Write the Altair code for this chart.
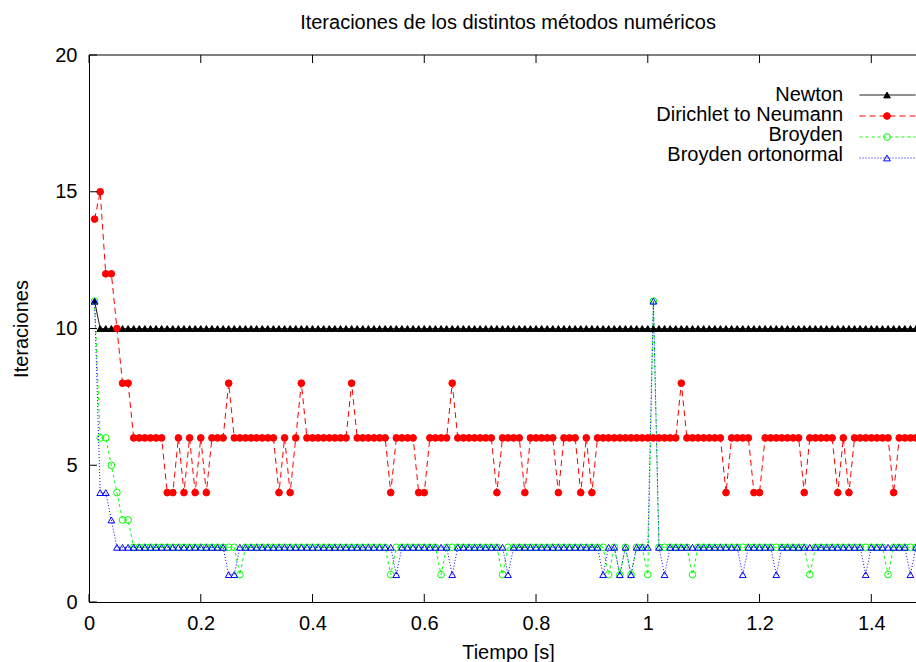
import altair as alt
import pandas as pd

FONT = "Liberation Sans"
FS = 20

series = ["Newton", "Dirichlet to Neumann", "Broyden", "Broyden ortonormal"]
colors = ["#000000", "#ff0000", "#00ff00", "#0000ff"]
dashes = [[1, 0], [6, 4], [3, 3], [1, 2]]
shapes = ["triangle-up", "circle", "circle", "triangle-up"]
fills = ["#000000", "#ff0000", "transparent", "transparent"]

x_ticks = [0, 0.2, 0.4, 0.6, 0.8, 1.0, 1.2, 1.4]
y_ticks = [0, 5, 10, 15, 20]

# sampling instants (s)
tiempo = [round(k / 100, 2) for k in range(1, 149)]

newton = [
    11, 10, 10, 10, 10, 10, 10, 10, 10, 10,
    10, 10, 10, 10, 10, 10, 10, 10, 10, 10,
    10, 10, 10, 10, 10, 10, 10, 10, 10, 10,
    10, 10, 10, 10, 10, 10, 10, 10, 10, 10,
    10, 10, 10, 10, 10, 10, 10, 10, 10, 10,
    10, 10, 10, 10, 10, 10, 10, 10, 10, 10,
    10, 10, 10, 10, 10, 10, 10, 10, 10, 10,
    10, 10, 10, 10, 10, 10, 10, 10, 10, 10,
    10, 10, 10, 10, 10, 10, 10, 10, 10, 10,
    10, 10, 10, 10, 10, 10, 10, 10, 10, 10,
    10, 10, 10, 10, 10, 10, 10, 10, 10, 10,
    10, 10, 10, 10, 10, 10, 10, 10, 10, 10,
    10, 10, 10, 10, 10, 10, 10, 10, 10, 10,
    10, 10, 10, 10, 10, 10, 10, 10, 10, 10,
    10, 10, 10, 10, 10, 10, 10, 10,
]

dtn = [
    14, 15, 12, 12, 10, 8, 8, 6, 6, 6,
    6, 6, 6, 4, 4, 6, 4, 6, 4, 6,
    4, 6, 6, 6, 8, 6, 6, 6, 6, 6,
    6, 6, 6, 4, 6, 4, 6, 8, 6, 6,
    6, 6, 6, 6, 6, 6, 8, 6, 6, 6,
    6, 6, 6, 4, 6, 6, 6, 6, 4, 4,
    6, 6, 6, 6, 8, 6, 6, 6, 6, 6,
    6, 6, 4, 6, 6, 6, 6, 4, 6, 6,
    6, 6, 6, 4, 6, 6, 6, 4, 6, 4,
    6, 6, 6, 6, 6, 6, 6, 6, 6, 6,
    6, 6, 6, 6, 6, 8, 6, 6, 6, 6,
    6, 6, 6, 4, 6, 6, 6, 6, 4, 4,
    6, 6, 6, 6, 6, 6, 6, 4, 6, 6,
    6, 6, 6, 4, 6, 4, 6, 6, 6, 6,
    6, 6, 6, 4, 6, 6, 6, 6,
]

broyden = [
    11, 6, 6, 5, 4, 3, 3, 2, 2, 2,
    2, 2, 2, 2, 2, 2, 2, 2, 2, 2,
    2, 2, 2, 2, 2, 2, 1, 2, 2, 2,
    2, 2, 2, 2, 2, 2, 2, 2, 2, 2,
    2, 2, 2, 2, 2, 2, 2, 2, 2, 2,
    2, 2, 2, 1, 2, 2, 2, 2, 2, 2,
    2, 2, 1, 2, 2, 2, 2, 2, 2, 2,
    2, 2, 2, 1, 2, 2, 2, 2, 2, 2,
    2, 2, 2, 2, 2, 2, 2, 2, 2, 2,
    2, 2, 1, 2, 1, 2, 1, 2, 2, 1,
    11, 2, 2, 2, 2, 2, 2, 1, 2, 2,
    2, 2, 2, 2, 2, 2, 2, 2, 2, 2,
    2, 2, 2, 2, 2, 2, 2, 2, 1, 2,
    2, 2, 2, 2, 2, 2, 2, 2, 2, 2,
    2, 2, 1, 2, 2, 2, 2, 2,
]

broyden_orto = [
    11, 4, 4, 3, 2, 2, 2, 2, 2, 2,
    2, 2, 2, 2, 2, 2, 2, 2, 2, 2,
    2, 2, 2, 2, 1, 1, 2, 2, 2, 2,
    2, 2, 2, 2, 2, 2, 2, 2, 2, 2,
    2, 2, 2, 2, 2, 2, 2, 2, 2, 2,
    2, 2, 2, 2, 1, 2, 2, 2, 2, 2,
    2, 2, 2, 2, 1, 2, 2, 2, 2, 2,
    2, 2, 2, 2, 1, 2, 2, 2, 2, 2,
    2, 2, 2, 2, 2, 2, 2, 2, 2, 2,
    2, 1, 2, 2, 1, 2, 1, 2, 2, 2,
    11, 2, 1, 2, 2, 2, 2, 2, 2, 2,
    2, 2, 2, 2, 2, 2, 1, 2, 2, 2,
    2, 2, 1, 2, 2, 2, 2, 2, 2, 2,
    2, 2, 2, 2, 2, 2, 2, 2, 1, 2,
    2, 2, 2, 2, 2, 2, 1, 2,
]

rows = []
for name, vals in zip(series, [newton, dtn, broyden, broyden_orto]):
    for t, v in zip(tiempo, vals):
        rows.append({"t": t, "valor": v, "serie": name})
df = pd.DataFrame(rows)

# separate keys so that line samples, markers and label texts form three legends
line_keys = [s + " (línea)" for s in series]
marker_keys = [s + " (marcador)" for s in series]

W, H = 827, 547
xscale = alt.Scale(domain=[0, 1.48], nice=False, zero=False)
yscale = alt.Scale(domain=[0, 20], nice=False)

x_axis = alt.Axis(
    values=x_ticks, format="~g", title="Tiempo [s]", ticks=False, tickSize=0,
    grid=False, labelPadding=27.2, labelBaseline="alphabetic", labelFont=FONT,
    labelFontSize=FS, labelColor="black", labelFlush=False, labelOverlap=False,
    domainColor="black", domainWidth=1, titleFont=FONT, titleFontSize=FS,
    titleFontWeight="normal", titleColor="black", titleX=419, titleY=56.2,
    titleBaseline="alphabetic", titleAlign="center",
)
y_axis = alt.Axis(
    values=y_ticks, title="Iteraciones", ticks=False, tickSize=0, grid=False,
    labelPadding=12, labelBaseline="middle", labelFont=FONT, labelFontSize=FS,
    labelColor="black", labelFlush=False, labelOverlap=False,
    domainColor="black", domainWidth=1, titleFont=FONT, titleFontSize=FS,
    titleFontWeight="normal", titleColor="black", titleX=-61.8, titleY=H / 2,
    titleBaseline="alphabetic", titleAlign="center", titleAngle=270,
)

ROW = 19.3
LEG_Y = 30.35
common = dict(
    title=None, orient="none", legendY=LEG_Y, labelFont=FONT, labelFontSize=FS,
    labelLimit=400, padding=0, clipHeight=ROW, labelOffset=0,
)
legend_lines = alt.Legend(
    legendX=770, symbolType="stroke", symbolSize=3136, symbolStrokeWidth=1,
    symbolOffset=0, labelExpr="''", rowPadding=0, **common,
)
legend_points = alt.Legend(
    legendX=788, symbolSize=45, symbolStrokeWidth=1, symbolOffset=0,
    symbolOpacity=1, labelExpr="''", rowPadding=0, **common,
)
legend_labels = alt.Legend(
    legendX=734, symbolSize=0, symbolStrokeWidth=0, symbolOffset=0,
    symbolFillColor="transparent", symbolStrokeColor="transparent",
    labelAlign="right", labelColor="black", rowPadding={"expr": "-1.7"}, **common,
)

lines = alt.Chart(df).transform_calculate(
    linea="datum.serie + ' (línea)'"
).mark_line(strokeWidth=1, clip=True).encode(
    x=alt.X("t:Q", scale=xscale, axis=x_axis),
    y=alt.Y("valor:Q", scale=yscale, axis=y_axis),
    color=alt.Color("linea:N", scale=alt.Scale(domain=line_keys, range=colors), legend=legend_lines),
    strokeDash=alt.StrokeDash("linea:N", scale=alt.Scale(domain=line_keys, range=dashes), legend=legend_lines),
)

points = alt.Chart(df).transform_calculate(
    marcador="datum.serie + ' (marcador)'"
).mark_point(size=45, strokeWidth=1, clip=True).encode(
    x=alt.X("t:Q", scale=xscale, axis=x_axis),
    y=alt.Y("valor:Q", scale=yscale, axis=y_axis),
    shape=alt.Shape("marcador:N", scale=alt.Scale(domain=marker_keys, range=shapes), legend=legend_points),
    fill=alt.Fill("marcador:N", scale=alt.Scale(domain=marker_keys, range=fills), legend=legend_points),
    stroke=alt.Stroke("marcador:N", scale=alt.Scale(domain=marker_keys, range=colors), legend=legend_points),
    opacity=alt.Opacity("serie:N", scale=alt.Scale(domain=series, range=[1, 1]), legend=legend_labels),
)

xt_df = pd.DataFrame({"xt": x_ticks})
yt_df = pd.DataFrame({"yt": y_ticks})
TL = 8
tick_bottom = alt.Chart(xt_df).mark_rule(color="black", strokeWidth=1).encode(
    x=alt.X("xt:Q", scale=xscale, axis=x_axis), y=alt.value(H - TL), y2=alt.value(H)
)
tick_top = alt.Chart(xt_df).mark_rule(color="black", strokeWidth=1).encode(
    x=alt.X("xt:Q", scale=xscale, axis=x_axis), y=alt.value(0), y2=alt.value(TL)
)
tick_left = alt.Chart(yt_df).mark_rule(color="black", strokeWidth=1).encode(
    y=alt.Y("yt:Q", scale=yscale, axis=y_axis), x=alt.value(0), x2=alt.value(TL)
)
top_border = alt.Chart(pd.DataFrame({"a": [0]})).mark_rule(color="black", strokeWidth=1).encode(
    x=alt.value(0), x2=alt.value(W), y=alt.value(0)
)

chart = alt.layer(
    lines, points, tick_bottom, tick_top, tick_left, top_border
).properties(
    width=W, height=H,
    padding={"left": 89, "top": 55, "right": 0, "bottom": 60},
    autosize=alt.AutoSizeParams(type="none"),
    background="white",
    title=alt.TitleParams(
        "Iteraciones de los distintos métodos numéricos", font=FONT, fontSize=FS,
        fontWeight="normal", color="black", anchor="middle", frame="group",
        dx=5.5, dy=21, offset=17, baseline="alphabetic",
    ),
).configure_view(stroke=None)

chart.save("out.html", embed_options={"renderer": "svg", "actions": False})
